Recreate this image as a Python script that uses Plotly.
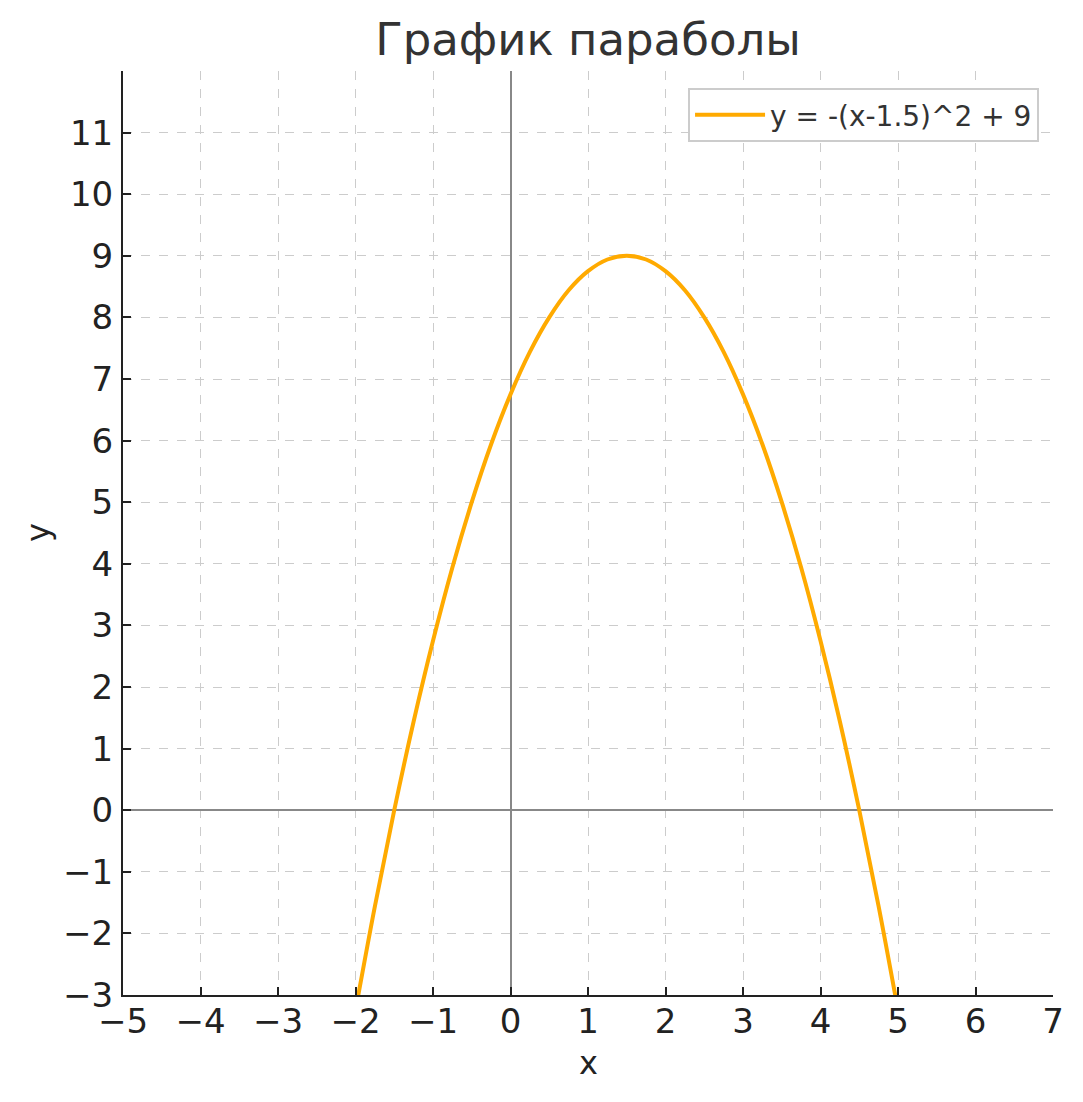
import plotly.graph_objects as go

# Data
x_vals = [-2.0, -1.75, -1.5, -1.25, -1.0, -0.75, -0.5, -0.25, 0.0, 0.25, 0.5, 0.75, 1.0, 1.25, 1.5,
          1.75, 2.0, 2.25, 2.5, 2.75, 3.0, 3.25, 3.5, 3.75, 4.0, 4.25, 4.5, 4.75, 5.0]
y_vals = [-3.25, -1.56, 0.0, 1.44, 2.75, 3.94, 5.0, 5.94, 6.75, 7.44, 8.0, 8.44, 8.75, 8.94, 9.0,
          8.94, 8.75, 8.44, 8.0, 7.44, 6.75, 5.94, 5.0, 3.94, 2.75, 1.44, 0.0, -1.56, -3.25]
series_name = "y = -(x-1.5)^2 + 9"
x_ticks = list(range(-5, 8))
y_ticks = list(range(-3, 12))

FONT = "DejaVu Sans"
W, H = 1075, 1094
fig = go.Figure()
fig.add_trace(go.Scatter(
    x=x_vals, y=y_vals, mode="lines", name=series_name,
    line=dict(color="#FFAA00", width=4, shape="spline"),
))

axis_common = dict(
    showgrid=True, gridcolor="#cccccc", gridwidth=1, griddash="dash",
    zeroline=True, zerolinecolor="#888888", zerolinewidth=1.5,
    showline=True, linecolor="#222222", linewidth=2,
    ticks="inside", ticklen=8, tickwidth=2, tickcolor="#222222",
    tickfont=dict(family=FONT, size=34, color="#222222"),
    automargin=False,
)

fig.update_layout(
    width=W, height=H,
    margin=dict(l=115, r=30, t=63, b=107),
    paper_bgcolor="white", plot_bgcolor="white",
    title=dict(text="График параболы", x=0.5, xref="paper", xanchor="center",
               y=1 - 31 / H, yref="container", yanchor="middle",
               font=dict(family=FONT, size=45, color="#333333")),
    xaxis=dict(range=[-5, 7], tickvals=x_ticks, ticklabelstandoff=-5, **axis_common),
    yaxis=dict(range=[-3, 12], tickvals=y_ticks, ticklabelstandoff=1, **axis_common),
    showlegend=True,
    legend=dict(x=0.985, y=0.9816, xanchor="right", yanchor="top",
                bgcolor="white", bordercolor="#cccccc", borderwidth=2,
                font=dict(family=FONT, size=28, color="#333333"),
                itemwidth=70),
)

fig.add_annotation(text="x", xref="paper", yref="paper", x=0.5, y=-(1063 - 995) / 924,
                   xanchor="center", yanchor="middle", showarrow=False,
                   font=dict(family=FONT, size=32, color="#222222"))
fig.add_annotation(text="y", xref="paper", yref="paper", x=-(123 - 38) / 930, y=0.5,
                   xanchor="center", yanchor="middle", showarrow=False, textangle=-90,
                   font=dict(family=FONT, size=32, color="#222222"))

fig.write_html("out.html")
